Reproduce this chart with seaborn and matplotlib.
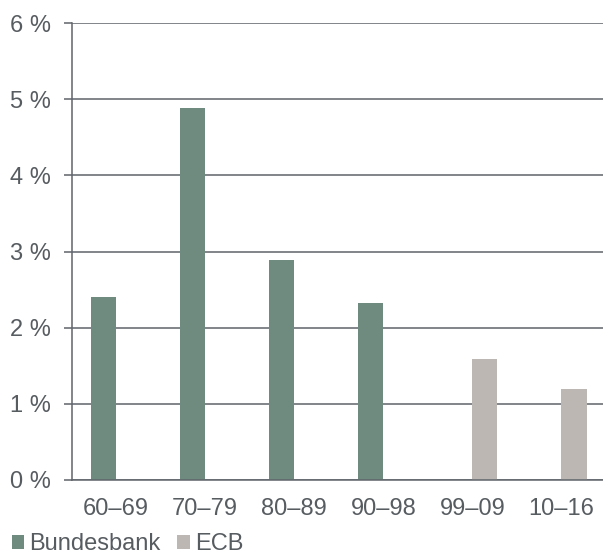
import pandas as pd
import matplotlib
matplotlib.use("Agg")
import matplotlib.pyplot as plt
from matplotlib.patches import Patch
import seaborn as sns

# values
periods = ["60–69", "70–79", "80–89", "90–98", "99–09", "10–16"]
banks = ["Bundesbank", "Bundesbank", "Bundesbank", "Bundesbank", "ECB", "ECB"]
inflation = [2.40, 4.88, 2.89, 2.33, 1.59, 1.20]

bank_order = ["Bundesbank", "ECB"]
bank_colors = {"Bundesbank": "#6f8b7f", "ECB": "#bcb7b2"}
y_ticks = [0, 1, 2, 3, 4, 5, 6]

line_col = "#5f656b"
text_col = "#575c61"
fs = 17

sns.set_style("white")
plt.rcParams["font.family"] = ["Liberation Sans", "DejaVu Sans"]

df = pd.DataFrame({"period": periods, "bank": banks, "value": inflation})

fig = plt.figure(figsize=(6.03, 5.56), dpi=100)
ax = fig.add_axes([71.5 / 603, 76 / 556, 534.5 / 603, 457 / 556])

sns.barplot(data=df, x="period", y="value", hue="bank", order=periods,
            hue_order=bank_order, palette=bank_colors, width=0.564,
            dodge=True, gap=0, linewidth=0, saturation=1, ax=ax, legend=False)

ax.set_ylim(0, 6)
ax.set_yticks(y_ticks)
ax.set_yticklabels([f"{t} %" for t in y_ticks])
ax.set_xlim(-0.5, len(periods) - 0.5)
ax.set_xticks([i - 0.5 for i in range(len(periods))], minor=True)
ax.set_xlabel("")
ax.set_ylabel("")

ax.set_axisbelow(True)
ax.yaxis.grid(True, color=line_col, linewidth=1.1)
ax.xaxis.grid(False)
for side in ["top", "right"]:
    ax.spines[side].set_visible(False)
for side in ["left", "bottom"]:
    ax.spines[side].set_color(line_col)
    ax.spines[side].set_linewidth(1.1)

ax.tick_params(axis="x", which="major", length=0, pad=13, labelsize=fs,
               labelcolor=text_col)
ax.tick_params(axis="x", which="minor", length=5, width=1.1, color=line_col,
               direction="out")
ax.tick_params(axis="y", length=6, width=1.1, color=line_col, pad=8.5,
               labelsize=fs, labelcolor=text_col, left=True)

handles = [Patch(facecolor=bank_colors[b], edgecolor="none", label=b)
           for b in bank_order]
fig.legend(handles=handles, loc="lower left", bbox_to_anchor=(12 / 603, 0.5 / 556),
           ncol=2, frameon=False, fontsize=fs, handlelength=0.52,
           handleheight=0.52, handletextpad=0.22, columnspacing=0.7,
           borderpad=0, borderaxespad=0, labelcolor=text_col)

fig.savefig("out.png", dpi=100)
